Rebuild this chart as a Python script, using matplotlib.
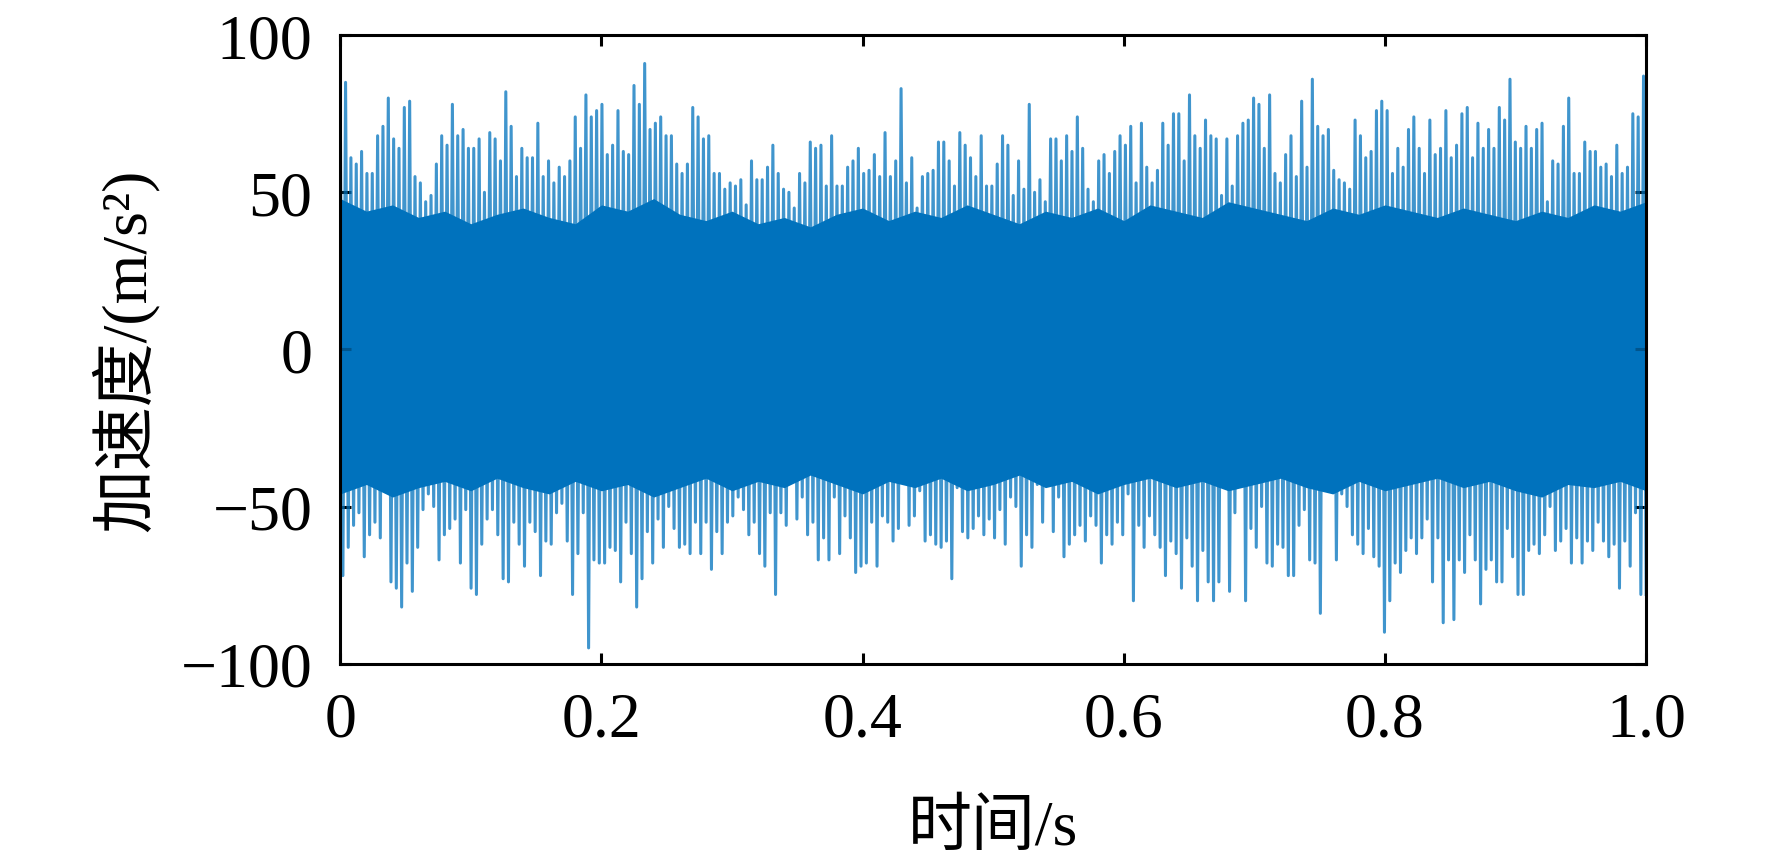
import numpy as np
import matplotlib
matplotlib.use("Agg")
import matplotlib.pyplot as plt

plt.rcParams['font.family'] = ['Liberation Serif', 'Noto Sans CJK SC', 'DejaVu Sans']
plt.rcParams['axes.unicode_minus'] = True

# positive peaks of the record, left to right (m/s^2)
peaks_pos = [
    83, 85, 61, 59, 63, 56, 56, 68, 71, 80, 67, 64, 77, 79, 55, 53, 47, 49,
    59, 68, 65, 78, 68, 70, 64, 64, 67, 50, 69, 67, 60, 82, 71, 55, 64, 61,
    61, 72, 55, 60, 53, 58, 55, 60, 74, 64, 81, 74, 76, 78, 62, 65, 76, 63,
    62, 84, 78, 91, 70, 72, 74, 68, 68, 59, 56, 59, 77, 74, 67, 68, 56, 56,
    51, 53, 52, 54, 46, 60, 54,
    54, 58, 65, 56, 51, 50, 45, 56, 53, 66, 64, 65, 52, 68, 52, 52, 58, 60,
    64, 56, 57, 62, 55, 69, 55, 60, 83, 53, 61, 45, 55, 56, 57, 66, 66, 60,
    52, 69, 65, 61, 55, 68, 52,
    52, 59, 68, 65, 49, 60, 51, 78, 50, 54, 47, 67, 67, 60, 68, 63, 74, 64,
    51, 47, 60, 62, 56, 63, 68, 65, 71, 53, 72, 58, 53, 57, 72, 65, 75, 75,
    60, 81, 68, 64, 73, 68, 67,
    49, 67, 52, 68, 72, 73, 80, 78, 64, 81, 56, 53, 62, 68, 55, 79, 58, 86,
    71, 68, 70, 57, 54, 53, 51, 73, 68, 61, 63, 76, 79, 76, 56, 64, 58, 70,
    74, 64, 56, 73, 62, 64, 76,
    61, 65, 75, 77, 61, 72, 64, 70, 64, 77, 73, 86, 66, 64, 71, 64, 70, 72,
    47, 60, 59, 71, 80, 56, 56, 66, 63, 63, 58, 59, 55, 65, 56, 58, 75, 74, 87,
]

# negative peaks of the record, left to right (m/s^2)
peaks_neg = [
    -72, -63, -56, -52, -66, -59, -55, -60, -45, -74, -76, -82, -68, -77, -63,
    -51, -46, -50, -67, -59, -57, -54, -68, -51, -76, -78, -62, -54, -51, -59,
    -73, -74, -55, -62, -69, -55,
    -58, -72, -61, -62, -52, -49, -61, -78, -65, -52, -95, -67, -68, -68, -63,
    -64, -74, -55, -65, -82, -73, -58, -68, -54, -63, -50, -57, -63, -62, -65,
    -55, -65, -55, -70, -58, -65, -55, -53, -47, -51, -59, -55, -65,
    -69, -52, -78, -52, -56, -36, -54, -47, -59, -55, -67, -60, -67, -47, -65,
    -53, -60, -71, -69, -68, -55, -69, -53, -55, -61, -57, -34, -56, -53, -45,
    -61, -59, -62, -63, -61, -73, -44, -58, -60, -57, -53, -59, -54,
    -60, -51, -62, -47, -50, -69, -59, -63, -43, -55, -33, -58, -47, -66, -62,
    -59, -56, -61, -53, -56, -68, -59, -62, -55, -59, -46, -80, -56, -63, -53,
    -59, -63, -72, -61, -65, -76, -60, -69, -80, -64, -74, -80, -74,
    -42, -77, -52, -42, -80, -57, -63, -50, -68, -69, -62, -63, -72, -72, -56,
    -51, -67, -68, -84, -36, -44, -67, -46, -50, -59, -62, -65, -57, -66, -69,
    -90, -80, -68, -71, -64, -60, -65, -60, -54, -74, -60, -87, -67,
    -86, -67, -71, -59, -67, -81, -70, -67, -74, -74, -57, -66, -78, -78, -64,
    -62, -65, -59, -50, -64, -61, -57, -68, -60, -68, -61, -64, -55, -61, -66,
    -62, -76, -61, -69, -52, -78, -78,
]

# edges of the dense band of samples, every 0.02 s (m/s^2)
band_top = [48, 44, 46, 42, 44, 40, 43, 45, 42, 40, 46, 44, 48, 43, 41, 44, 40,
            42, 39, 43, 45, 41, 44, 42, 46, 43, 40, 44, 42, 45, 41, 46, 44, 42,
            47, 45, 43, 41, 45, 43, 46, 44, 42, 45, 43, 41, 44, 42, 46, 44, 47]
band_bottom = [-46, -43, -47, -44, -42, -45, -41, -44, -46, -42, -45, -43, -47,
               -44, -41, -45, -42, -44, -40, -43, -46, -42, -44, -41, -45, -43,
               -40, -44, -42, -46, -43, -41, -44, -42, -45, -43, -41, -44, -46,
               -42, -45, -43, -41, -44, -42, -45, -47, -43, -44, -42, -45]

xticks = [0, 0.2, 0.4, 0.6, 0.8, 1.0]
xtick_labels = ['0', '0.2', '0.4', '0.6', '0.8', '1.0']
yticks = [-100, -50, 0, 50, 100]

accel = np.column_stack([peaks_pos, peaks_neg]).ravel()
t = np.linspace(0, 1, len(accel))
t_band = np.linspace(0, 1, len(band_top))

fig = plt.figure(figsize=(8.86, 4.31), dpi=200)
ax = fig.add_axes([0.192, 0.229, 0.737, 0.729])
ax.fill_between(t_band, band_bottom, band_top, color='#0072BD', lw=0)
ax.plot(t, accel, color='#0072BD', lw=1.1, alpha=0.75)

ax.set_xlim(0, 1)
ax.set_ylim(-100, 100)
ax.set_xticks(xticks)
ax.set_xticklabels(xtick_labels)
ax.set_yticks(yticks)
ax.tick_params(direction='in', length=4, width=1.1, labelsize=23,
               top=True, right=True, pad=10)
for s in ax.spines.values():
    s.set_linewidth(1.1)

ax.set_xlabel('时间/s', fontsize=23, labelpad=18)
ax.set_ylabel('加速度/(m/s²)', fontsize=23, labelpad=8)

fig.savefig('out.png', dpi=200)
